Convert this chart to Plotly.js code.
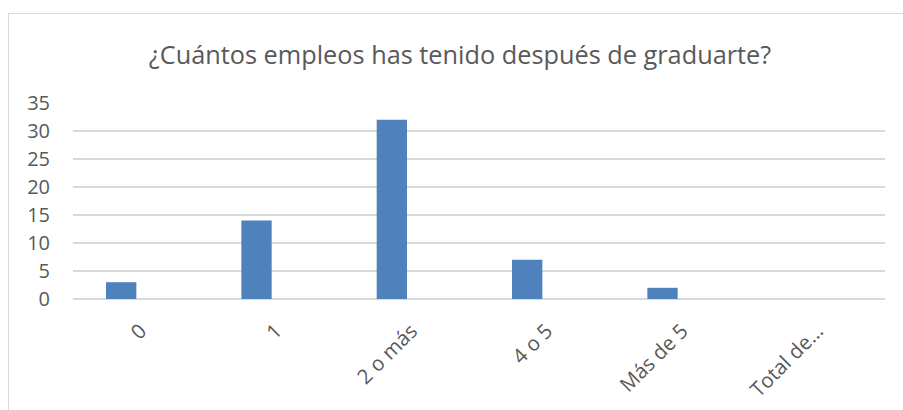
<!DOCTYPE html>
<html>
<head>
<meta charset="utf-8">
<script src="https://cdn.plot.ly/plotly-3.0.1.min.js"></script>
<style>
  html, body { margin: 0; padding: 0; background: #fff; }
  #wrap { position: relative; width: 903px; height: 410px; overflow: hidden; }
  #chart { width: 903px; height: 410px; }
  #frame { position: absolute; left: 8px; top: 13px; width: 920px; height: 420px;
           border: 1px solid #D9D9D9; box-sizing: border-box; pointer-events: none; }
</style>
</head>
<body>
<div id="wrap">
  <div id="chart"></div>
  <div id="frame"></div>
</div>
<script>
const categories = ["0", "1", "2 o más", "4 o 5", "Más de 5", "Total de…"];
const counts = [3, 14, 32, 7, 2, 0];
const yTicks = [0, 5, 10, 15, 20, 25, 30, 35];
const titleText = "¿Cuántos empleos has tenido después de graduarte?";

const FONT = "'Open Sans', Lato, sans-serif";
const TXT = "#595959";

const trace = {
  type: "bar",
  x: categories,
  y: counts,
  width: 0.224,
  offset: -0.256,
  marker: { color: "#4F81BD", line: { width: 0 } },
  hoverinfo: "x+y"
};

const layout = {
  width: 903,
  height: 410,
  margin: { l: 73, r: 18, t: 103, b: 111 },
  paper_bgcolor: "rgba(0,0,0,0)",
  plot_bgcolor: "#fff",
  showlegend: false,
  title: {
    text: titleText,
    font: { family: FONT, size: 25.3, color: TXT },
    x: 460 / 903, xref: "container", xanchor: "center",
    y: 1 - 55 / 410, yref: "container", yanchor: "middle"
  },
  xaxis: {
    type: "category",
    tickangle: -45,
    tickfont: { family: FONT, size: 20.5, color: TXT },
    showgrid: false,
    showline: false,
    zeroline: false,
    ticks: "",
    ticklabelstandoff: 15
  },
  yaxis: {
    range: [0, 35],
    tickvals: yTicks,
    ticktext: yTicks.map(String),
    tickfont: { family: FONT, size: 20, color: TXT },
    showgrid: true,
    gridcolor: "#D9D9D9",
    gridwidth: 1.3,
    zeroline: true,
    zerolinecolor: "#D9D9D9",
    zerolinewidth: 1.3,
    showline: false,
    ticks: "",
    ticklabelstandoff: 22
  }
};

Plotly.newPlot("chart", [trace], layout, { displayModeBar: false, staticPlot: true });
</script>
</body>
</html>
